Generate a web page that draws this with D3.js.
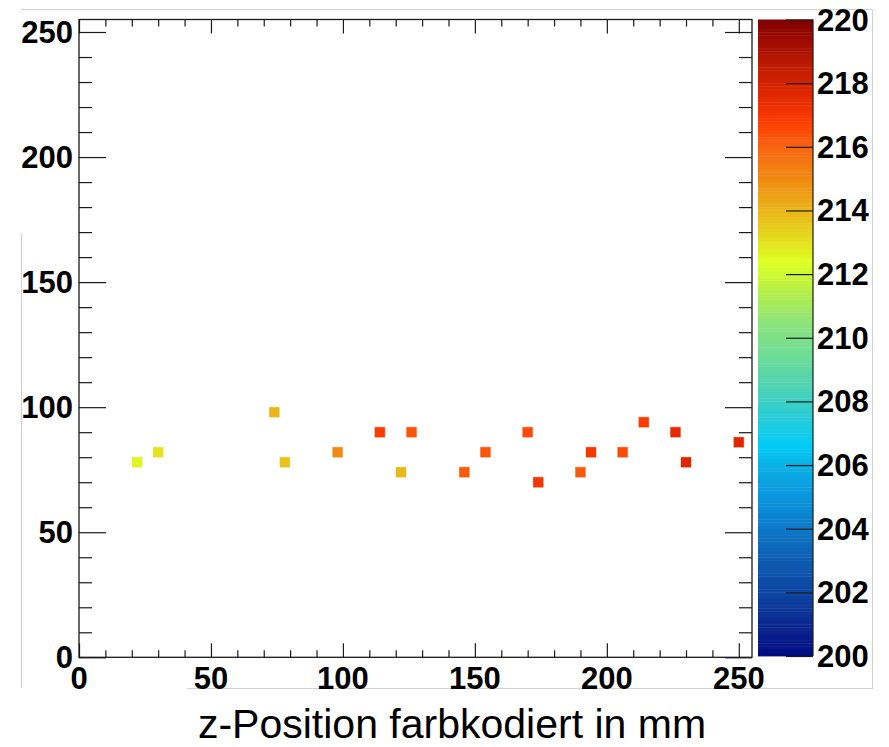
<!DOCTYPE html>
<html><head><meta charset="utf-8">
<script src="https://cdn.jsdelivr.net/npm/d3@7"></script>
<style>body{margin:0;background:#fff}svg{display:block}text{font-family:"Liberation Sans",Arial,Helvetica,sans-serif}</style>
</head><body><svg id="c" width="889" height="747"></svg>
<script>
// ---- data ----
const xPos = [22, 30, 74, 78, 98, 114, 122, 126, 146, 154, 170, 174, 190, 194, 206, 214, 226, 230, 250];
const yPos = [78, 82, 98, 78, 82, 90, 74, 90, 74, 82, 90, 70, 74, 82, 82, 94, 90, 78, 86];
const zVal = [212.6, 213.0, 214.0, 213.7, 215.0, 216.8, 213.9, 216.3, 216.2, 216.3, 216.5, 217.1, 216.2, 217.0, 216.5, 216.8, 217.5, 217.7, 217.6];
const xTickLabels = [0, 50, 100, 150, 200, 250];
const yTickLabels = [0, 50, 100, 150, 200, 250];
const zTickLabels = [200, 202, 204, 206, 208, 210, 212, 214, 216, 218, 220];
const xTitle = "z-Position farbkodiert in mm";
const paletteStops = [200, 201, 202, 203, 204, 205, 206, 206.6, 207.5, 208.5, 209.5, 210.5, 211.5, 212.4, 213.2, 214, 215, 216, 216.8, 217.6, 218.5, 219.3, 220];
const paletteColors = ["#000a80", "#0a2890", "#0d45a2", "#0d5cb2", "#0d78c8", "#0a96dc", "#0ab0e6", "#00ccf5", "#28ccd8", "#50d4b0", "#6edc94", "#8ee47a", "#b8f048", "#deff22", "#e4d81c", "#eab61a", "#f08a12", "#f86410", "#ff3c00", "#e02800", "#c01c00", "#a00c00", "#800000"];

// ---- layout ----
const svg = d3.select("#c");
const L = 79, R = 752, T = 19.5, B = 657.3;
const CL = 758, CR = 813, CT = 19.5, CB = 656;
const ink = "#1a1a1a";

const x = d3.scaleLinear().domain([0, 255]).range([L, R]);
const y = d3.scaleLinear().domain([0, 255]).range([B, T]);
const zy = d3.scaleLinear().domain([200, 220]).range([CB, CT]);
const color = d3.scaleLinear().domain(paletteStops).range(paletteColors).clamp(true);

// faint outer frame lines (screenshot artefacts)
const faint = svg.append("g").attr("stroke", "#d2d2d2").attr("stroke-width", 1).attr("fill", "none");
faint.append("line").attr("x1", 21).attr("x2", 873).attr("y1", 9.5).attr("y2", 9.5);
faint.append("line").attr("x1", 21.5).attr("x2", 21.5).attr("y1", 233).attr("y2", 688);
faint.append("line").attr("x1", 872.5).attr("x2", 872.5).attr("y1", 9).attr("y2", 688);
faint.append("line").attr("x1", 187).attr("x2", 873).attr("y1", 688.5).attr("y2", 688.5);

// ---- axes ticks ----
const minorX = d3.range(0, 256, 10).filter(v => v % 50 !== 0);
const minorY = d3.range(0, 256, 10).filter(v => v % 50 !== 0);

function styleAxis(g) {
  g.select(".domain").remove();
  g.selectAll(".tick line").attr("stroke", ink).attr("stroke-width", 1.2);
  g.selectAll(".tick text").remove();
}
// bottom (ticks up)
svg.append("g").attr("transform", `translate(0,${B})`).call(d3.axisTop(x).tickValues(xTickLabels).tickSize(14).tickFormat("")).call(styleAxis);
svg.append("g").attr("transform", `translate(0,${B})`).call(d3.axisTop(x).tickValues(minorX).tickSize(7).tickFormat("")).call(styleAxis);
// top (ticks down)
svg.append("g").attr("transform", `translate(0,${T})`).call(d3.axisBottom(x).tickValues(xTickLabels).tickSize(14).tickFormat("")).call(styleAxis);
svg.append("g").attr("transform", `translate(0,${T})`).call(d3.axisBottom(x).tickValues(minorX).tickSize(7).tickFormat("")).call(styleAxis);
// left (ticks right)
svg.append("g").attr("transform", `translate(${L},0)`).call(d3.axisRight(y).tickValues(yTickLabels).tickSize(27).tickFormat("")).call(styleAxis);
svg.append("g").attr("transform", `translate(${L},0)`).call(d3.axisRight(y).tickValues(minorY).tickSize(13).tickFormat("")).call(styleAxis);
// right (ticks left)
svg.append("g").attr("transform", `translate(${R},0)`).call(d3.axisLeft(y).tickValues(yTickLabels).tickSize(27).tickFormat("")).call(styleAxis);
svg.append("g").attr("transform", `translate(${R},0)`).call(d3.axisLeft(y).tickValues(minorY).tickSize(13).tickFormat("")).call(styleAxis);

// frame
svg.append("rect").attr("x", L).attr("y", T).attr("width", R - L).attr("height", B - T)
  .attr("fill", "none").attr("stroke", ink).attr("stroke-width", 1.3);

// tick labels
svg.append("g").selectAll("text").data(xTickLabels).join("text")
  .attr("x", d => x(d)).attr("y", 689).attr("text-anchor", "middle")
  .attr("font-size", 31).attr("font-weight", "bold").attr("fill", "#000").text(d => d);
svg.append("g").selectAll("text").data(yTickLabels).join("text")
  .attr("x", 73).attr("y", d => y(d) + 11).attr("text-anchor", "end")
  .attr("font-size", 31).attr("font-weight", "bold").attr("fill", "#000").text(d => d);

// ---- points ----
const pts = xPos.map((v, i) => ({ x: v, y: yPos[i], z: zVal[i] }));
svg.append("g").selectAll("rect").data(pts).join("rect")
  .attr("x", d => x(d.x) - 5).attr("y", d => y(d.y) - 5)
  .attr("width", 10).attr("height", 10)
  .attr("fill", d => color(d.z))
  .attr("stroke", d => color(d.z)).attr("stroke-opacity", 0.35).attr("stroke-width", 1);

// ---- colour bar ----
const levels = d3.range(200, 220, 0.1);
svg.append("g").selectAll("rect").data(levels).join("rect")
  .attr("x", CL).attr("width", CR - CL)
  .attr("y", d => zy(d + 0.1)).attr("height", d => zy(d) - zy(d + 0.1) + 0.4)
  .attr("fill", d => color(d + 0.05));
svg.append("line").attr("x1", CR).attr("x2", CR).attr("y1", CT).attr("y2", CB)
  .attr("stroke", ink).attr("stroke-width", 1.2);
svg.append("g").attr("transform", `translate(${CR},0)`)
  .call(d3.axisLeft(zy).tickValues(zTickLabels).tickSize(27).tickFormat("")).call(styleAxis);
svg.append("g").selectAll("text").data(zTickLabels).join("text")
  .attr("x", 817).attr("y", d => zy(d) + 11).attr("text-anchor", "start")
  .attr("font-size", 31).attr("font-weight", "bold").attr("fill", "#000").text(d => d);

// ---- title ----
svg.append("text").attr("x", 452).attr("y", 738).attr("text-anchor", "middle")
  .attr("font-size", 41).attr("fill", "#000").text(xTitle);
</script></body></html>
